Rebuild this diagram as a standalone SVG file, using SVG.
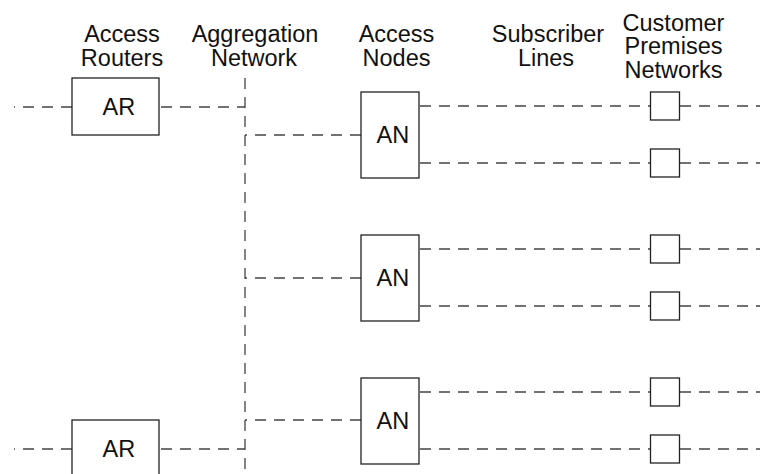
<svg xmlns="http://www.w3.org/2000/svg" width="760" height="474" viewBox="0 0 760 474">
<style>
  .box { fill: #fff; stroke: #222; stroke-width: 1.3; }
  .lbl { font-family: "Liberation Sans", Arial, sans-serif; font-size: 23.5px; fill: #111; text-anchor: middle; }
  .nt { font-family: "Liberation Sans", Arial, sans-serif; font-size: 23.5px; fill: #111; }
  .ln { fill: none; stroke: #444; stroke-width: 1.3; stroke-dasharray: 11 8; }
</style>
<rect width="760" height="474" fill="#fff"/>
<g id="headers">
  <text class="lbl"><tspan x="122" y="42">Access</tspan><tspan x="122" y="65.5">Routers</tspan></text>
  <text class="lbl"><tspan x="255" y="42">Aggregation</tspan><tspan x="254" y="65.5">Network</tspan></text>
  <text class="lbl"><tspan x="396.5" y="42">Access</tspan><tspan x="396.5" y="65.5">Nodes</tspan></text>
  <text class="lbl"><tspan x="548" y="42">Subscriber</tspan><tspan x="546" y="65.5">Lines</tspan></text>
  <text class="lbl"><tspan x="673.5" y="30.5">Customer</tspan><tspan x="673.5" y="54">Premises</tspan><tspan x="673.5" y="77.5">Networks</tspan></text>
</g>
<g id="connectors">
  <line class="ln" x1="72" y1="107" x2="14" y2="107"/>
  <line class="ln" x1="159" y1="107" x2="245" y2="107" stroke-dashoffset="-2"/>
  <line class="ln" x1="72" y1="449" x2="14" y2="449"/>
  <line class="ln" x1="159" y1="449" x2="245" y2="449" stroke-dashoffset="-2"/>
  <line class="ln" x1="245" y1="78" x2="245" y2="474"/>
  <line class="ln" x1="361" y1="135" x2="245" y2="135"/>
  <line class="ln" x1="361" y1="278" x2="245" y2="278"/>
  <line class="ln" x1="361" y1="420" x2="245" y2="420"/>
  <line class="ln" x1="419" y1="106" x2="650" y2="106" stroke-dashoffset="-1"/>
  <line class="ln" x1="419" y1="163" x2="650" y2="163" stroke-dashoffset="-1"/>
  <line class="ln" x1="419" y1="249" x2="650" y2="249" stroke-dashoffset="-1"/>
  <line class="ln" x1="419" y1="306" x2="650" y2="306" stroke-dashoffset="-1"/>
  <line class="ln" x1="419" y1="392" x2="650" y2="392" stroke-dashoffset="-1"/>
  <line class="ln" x1="419" y1="449" x2="650" y2="449" stroke-dashoffset="-1"/>
  <line class="ln" x1="680" y1="106" x2="760" y2="106"/>
  <line class="ln" x1="680" y1="163" x2="760" y2="163"/>
  <line class="ln" x1="680" y1="249" x2="760" y2="249"/>
  <line class="ln" x1="680" y1="306" x2="760" y2="306"/>
  <line class="ln" x1="680" y1="392" x2="760" y2="392"/>
  <line class="ln" x1="680" y1="449" x2="760" y2="449"/>
</g>
<g id="ar1"><rect class="box" x="72" y="78" width="87" height="57"/><text class="nt" x="102.5" y="115">AR</text></g>
<g id="ar2"><rect class="box" x="72" y="420" width="87" height="57"/><text class="nt" x="102.5" y="457">AR</text></g>
<g id="an1"><rect class="box" x="361" y="92" width="58" height="86"/><text class="nt" x="376.5" y="143">AN</text></g>
<g id="an2"><rect class="box" x="361" y="235" width="58" height="86"/><text class="nt" x="376.5" y="286">AN</text></g>
<g id="an3"><rect class="box" x="361" y="378" width="58" height="86"/><text class="nt" x="376.5" y="429">AN</text></g>
<g id="cpn1"><rect class="box" x="650.5" y="92" width="29" height="28"/></g>
<g id="cpn2"><rect class="box" x="650.5" y="149" width="29" height="28"/></g>
<g id="cpn3"><rect class="box" x="650.5" y="235" width="29" height="28"/></g>
<g id="cpn4"><rect class="box" x="650.5" y="292" width="29" height="28"/></g>
<g id="cpn5"><rect class="box" x="650.5" y="378" width="29" height="28"/></g>
<g id="cpn6"><rect class="box" x="650.5" y="435" width="29" height="28"/></g>
</svg>
